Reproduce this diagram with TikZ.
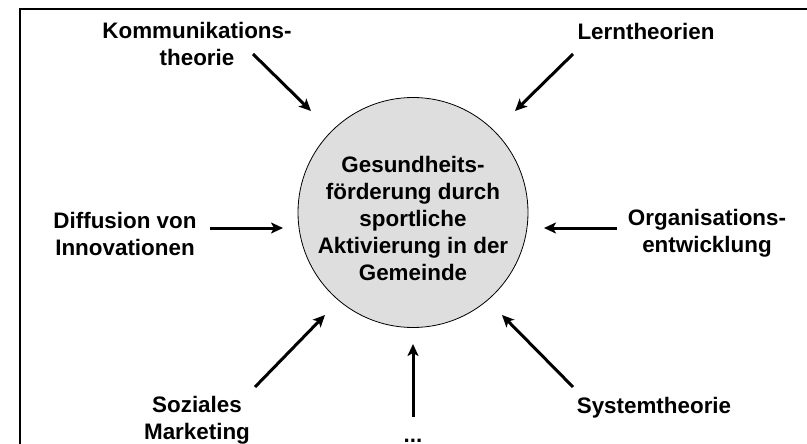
\documentclass[tikz,border=0pt]{standalone}
\usepackage{fontspec}
\setmainfont{Liberation Sans}
\usetikzlibrary{arrows.meta}
\begin{document}
\begin{tikzpicture}[x=1pt,y=-1pt,
  lbl/.style={font=\bfseries\fontsize{22.4}{27}\selectfont, align=center, inner sep=0pt},
  arr/.style={line width=3pt, -{Stealth[length=12pt,width=11pt,inset=3pt]}},
  hub/.style={circle, draw=black, line width=0.8pt, fill=black!13, minimum size=230pt, inner sep=0pt}]
\useasboundingbox (0,0) rectangle (807,444);
\clip (0,0) rectangle (807,444);
\draw[line width=2.7pt] (20,9) rectangle (840,480);
\node[hub] (c) at (413,212.5) {};
\node[lbl] (ct) at (413,218.5) {Gesundheits-\\förderung durch\\sportliche\\Aktivierung in der\\Gemeinde};
\node[lbl] (k) at (197,43.5) {Kommunikations-\\theorie};
\node[lbl] (l) at (646,31) {Lerntheorien};
\node[lbl] (d) at (125,233.5) {Diffusion von\\Innovationen};
\node[lbl] (o) at (707,233) {Organisations-\\entwicklung};
\node[lbl] (s) at (197,420.5) {Soziales\\Marketing};
\node[lbl] (y) at (654,408) {Systemtheorie};
\node[font=\bfseries\fontsize{22.4}{27}\selectfont, inner sep=0pt, text height=4pt, text depth=0pt, anchor=base] (e) at (413,442.5) {...};
\coordinate (k0) at (253,54); \coordinate (k1) at (311,111);
\coordinate (l0) at (573,54); \coordinate (l1) at (515,111);
\coordinate (d0) at (210,228); \coordinate (d1) at (283,228);
\coordinate (o0) at (617,228); \coordinate (o1) at (544,228);
\coordinate (s0) at (255,387); \coordinate (s1) at (325,315);
\coordinate (y0) at (573,387); \coordinate (y1) at (502,315);
\coordinate (e0) at (413,417); \coordinate (e1) at (413,344);
\draw[arr] (k0) -- (k1);
\draw[arr] (l0) -- (l1);
\draw[arr] (d0) -- (d1);
\draw[arr] (o0) -- (o1);
\draw[arr] (s0) -- (s1);
\draw[arr] (y0) -- (y1);
\draw[arr] (e0) -- (e1);
\end{tikzpicture}
\end{document}
